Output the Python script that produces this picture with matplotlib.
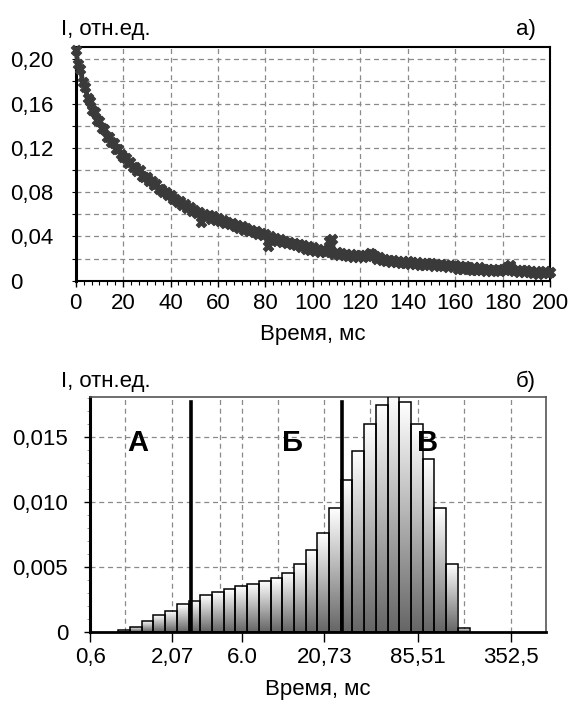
import numpy as np
import matplotlib
matplotlib.use("Agg")
import matplotlib.pyplot as plt
from matplotlib.colors import LinearSegmentedColormap
from matplotlib.ticker import FixedLocator, MultipleLocator, AutoMinorLocator

plt.rcParams['font.family'] = ['Liberation Sans', 'DejaVu Sans']

# ---------- panel a): decay curve, one point per ms ----------
t_ms = np.arange(0, 201)
intensity = [
    0.208, 0.196, 0.191, 0.179, 0.175, 0.165, 0.162, 0.154, 0.152, 0.145,
    0.144, 0.138, 0.137, 0.130, 0.130, 0.125, 0.124, 0.119, 0.119, 0.114,
    0.112, 0.111, 0.106, 0.107, 0.103, 0.103, 0.099, 0.100, 0.095, 0.094,
    0.094, 0.090, 0.090, 0.086, 0.087, 0.083, 0.083, 0.080, 0.080, 0.077,
    0.077, 0.074, 0.074, 0.071, 0.072, 0.068, 0.069, 0.066, 0.067, 0.063,
    0.064, 0.061, 0.062, 0.053, 0.060, 0.058, 0.059, 0.056, 0.058, 0.055,
    0.057, 0.054, 0.055, 0.052, 0.053, 0.051, 0.052, 0.049, 0.050, 0.048,
    0.049, 0.046, 0.048, 0.045, 0.046, 0.044, 0.045, 0.042, 0.043, 0.041,
    0.042, 0.031, 0.040, 0.038, 0.039, 0.036, 0.038, 0.035, 0.036, 0.034,
    0.035, 0.033, 0.034, 0.032, 0.033, 0.030, 0.032, 0.029, 0.031, 0.028,
    0.030, 0.027, 0.029, 0.026, 0.028, 0.026, 0.027, 0.036, 0.038, 0.024,
    0.026, 0.023, 0.025, 0.023, 0.024, 0.022, 0.024, 0.021, 0.023, 0.021,
    0.023, 0.021, 0.023, 0.022, 0.025, 0.024, 0.022, 0.020, 0.021, 0.019,
    0.020, 0.018, 0.019, 0.017, 0.019, 0.017, 0.018, 0.016, 0.018, 0.016,
    0.018, 0.015, 0.017, 0.015, 0.017, 0.014, 0.016, 0.014, 0.016, 0.015,
    0.016, 0.013, 0.015, 0.014, 0.015, 0.013, 0.014, 0.012, 0.014, 0.013,
    0.014, 0.011, 0.013, 0.011, 0.013, 0.012, 0.011, 0.010, 0.012, 0.010,
    0.012, 0.010, 0.011, 0.009, 0.011, 0.009, 0.011, 0.010, 0.010, 0.009,
    0.011, 0.010, 0.012, 0.014, 0.011, 0.009, 0.010, 0.008, 0.010, 0.008,
    0.010, 0.008, 0.009, 0.007, 0.009, 0.006, 0.008, 0.007, 0.009, 0.007,
    0.008,
]
top_yticks = [0, 0.04, 0.08, 0.12, 0.16, 0.20]
top_yticklabels = ["0", "0,04", "0,08", "0,12", "0,16", "0,20"]

# ---------- panel б): log-binned histogram ----------
bin_edges = [0.916, 1.094, 1.306, 1.559, 1.862, 2.223, 2.654, 3.169, 3.784, 4.518,
             5.394, 6.441, 7.690, 9.182, 10.96, 13.09, 15.63, 18.66, 22.28, 26.60,
             31.76, 37.93, 45.28, 54.07, 64.56, 77.08, 92.04, 109.9, 131.2, 156.7,
             187.1]
bin_heights = [0.0001, 0.0004, 0.00085, 0.0013, 0.0016, 0.0021, 0.0024, 0.0028, 0.00302, 0.00325,
               0.0035, 0.0037, 0.0039, 0.0041, 0.00454, 0.0052, 0.00626, 0.0076, 0.0095, 0.01167,
               0.0139, 0.01595, 0.01744, 0.0185, 0.01764, 0.01595, 0.01325, 0.0095, 0.0052, 0.0003]
bot_xticks = [0.6, 2.07, 6.0, 20.73, 85.51, 352.5]
bot_xticklabels = ["0,6", "2,07", "6.0", "20,73", "85,51", "352,5"]
bot_extra_grid = [1.02, 4.26, 10.35, 41.5, 173]
bot_yticks = [0, 0.005, 0.010, 0.015]
bot_yticklabels = ["0", "0,005", "0,010", "0,015"]
boundaries = [2.77, 27.0]
boundary_top = 0.0177
zone_names = ["А", "Б", "В"]
zone_x = [1.23, 12.8, 99.1]
zone_y = 0.0145

FS = 16
grid_kw = dict(color="#8a8a8a", linestyle=(0, (4, 3)), linewidth=0.9)
dot_color = "#3a3a3a"

fig = plt.figure(figsize=(5.74, 7.04), dpi=100)

# ---------- top ----------
ax1 = fig.add_axes([75.7 / 574, 1 - 280.7 / 704, (550 - 75.7) / 574, (280.7 - 46.5) / 704])
ax1.plot(t_ms, intensity, color=dot_color, linewidth=3.5, zorder=3,
         solid_capstyle="round", clip_on=False)
ax1.scatter(t_ms, intensity, marker="X", s=55, color=dot_color, linewidths=0.8,
            edgecolors=dot_color, zorder=3, clip_on=False)
ax1.set_xlim(0, 200)
ax1.set_ylim(0, 0.2115)
ax1.xaxis.set_major_locator(MultipleLocator(20))
ax1.xaxis.set_minor_locator(AutoMinorLocator(6))
ax1.yaxis.set_major_locator(FixedLocator(top_yticks))
ax1.yaxis.set_minor_locator(MultipleLocator(0.02))
ax1.set_yticklabels(top_yticklabels)
ax1.grid(True, which="major", axis="x", **grid_kw)
ax1.grid(True, which="both", axis="y", **grid_kw)
ax1.tick_params(axis="x", which="major", length=4, width=1, labelsize=FS, pad=5)
ax1.tick_params(axis="x", which="minor", length=3, width=0.8)
ax1.tick_params(axis="y", which="both", length=3, width=0.8, labelsize=FS, pad=44)
for lbl in ax1.get_yticklabels():
    lbl.set_ha("left")
for s in ax1.spines.values():
    s.set_linewidth(1.5)
ax1.spines["left"].set_linewidth(2.2)
ax1.set_xlabel("Время, мс", fontsize=FS, labelpad=7)
ax1.set_axisbelow(True)

fig.text(61 / 574, 1 - 35 / 704, "I, отн.ед.", fontsize=FS, va="baseline", ha="left")
fig.text(536 / 574, 1 - 35 / 704, "а)", fontsize=FS, va="baseline", ha="right")

# ---------- bottom ----------
ax2 = fig.add_axes([90.4 / 574, 1 - 631.7 / 704, (545.7 - 90.4) / 574, (631.7 - 396.7) / 704])
ax2.set_xscale("log")
ax2.set_xlim(0.6, 593)
ax2.set_ylim(0, 0.01808)

cmap = LinearSegmentedColormap.from_list("bars", ["#666666", "#ffffff"])
grad = np.linspace(1, 0, 128).reshape(-1, 1)
for x0, x1, h in zip(bin_edges[:-1], bin_edges[1:], bin_heights):
    ax2.imshow(grad, extent=[x0, x1, 0, h], cmap=cmap, aspect="auto",
               origin="upper", zorder=2, interpolation="bilinear")
widths = np.diff(bin_edges)
ax2.bar(bin_edges[:-1], bin_heights, width=widths, align="edge", fill=False,
        edgecolor="black", linewidth=1.1, zorder=3)
ax2.set_xlim(0.6, 593)
ax2.set_ylim(0, 0.01808)

for b in boundaries:
    ax2.plot([b, b], [0, boundary_top], color="black", linewidth=2.6, zorder=4)
for name, zx in zip(zone_names, zone_x):
    ax2.text(zx, zone_y, name, fontsize=21, fontweight="bold", ha="center",
             va="center", zorder=5)

ax2.xaxis.set_major_locator(FixedLocator(bot_xticks))
ax2.xaxis.set_minor_locator(FixedLocator(bot_extra_grid))
ax2.set_xticklabels(bot_xticklabels)
ax2.xaxis.set_minor_formatter(plt.NullFormatter())
ax2.yaxis.set_major_locator(FixedLocator(bot_yticks))
ax2.yaxis.set_minor_locator(MultipleLocator(0.001))
ax2.set_yticklabels(bot_yticklabels)
ax2.grid(True, which="both", axis="x", **grid_kw)
ax2.grid(True, which="major", axis="y", **grid_kw)
ax2.set_axisbelow(True)
ax2.tick_params(axis="x", which="major", length=7, width=1, labelsize=FS, pad=4)
ax2.tick_params(axis="x", which="minor", length=0)
ax2.tick_params(axis="y", which="major", length=4, width=1, labelsize=FS, pad=12)
ax2.tick_params(axis="y", which="minor", length=2, width=0.6, color="#888888")
ax2.spines["left"].set_linewidth(2.2)
ax2.spines["bottom"].set_linewidth(2.0)
ax2.spines["top"].set_linewidth(1.2)
ax2.spines["right"].set_linewidth(1.2)
ax2.spines["top"].set_color("#555555")
ax2.spines["right"].set_color("#555555")
ax2.set_xlabel("Время, мс", fontsize=FS, labelpad=8)

fig.text(61 / 574, 1 - 387 / 704, "I, отн.ед.", fontsize=FS, va="baseline", ha="left")
fig.text(536 / 574, 1 - 387 / 704, "б)", fontsize=FS, va="baseline", ha="right")

plt.savefig("out.png", dpi=100)
